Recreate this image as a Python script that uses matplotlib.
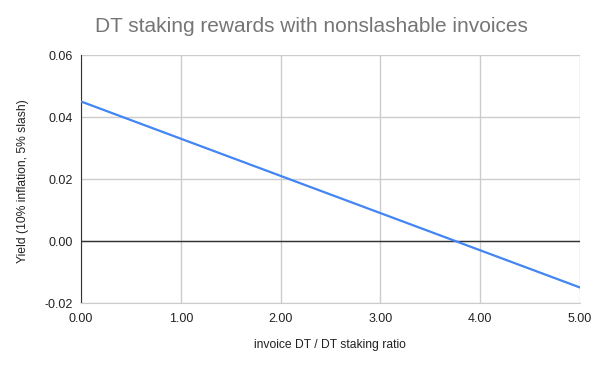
import matplotlib.pyplot as plt
from matplotlib.ticker import FormatStrFormatter

plt.rcParams['font.family'] = ['Liberation Sans', 'DejaVu Sans']

# invoice DT / DT staking ratio vs yield
ratio = [0.0, 1.0, 2.0, 3.0, 4.0, 5.0]
yield_vals = [0.045, 0.033, 0.021, 0.009, -0.003, -0.015]
x_ticks = [0, 1, 2, 3, 4, 5]
y_ticks = [-0.02, 0.0, 0.02, 0.04, 0.06]

fig = plt.figure(figsize=(5.96, 3.69), dpi=100)
ax = fig.add_axes([81 / 596, 1 - 303 / 369, 499 / 596, 248 / 369])

ax.plot(ratio, yield_vals, color='#4285f4', linewidth=1.6, zorder=3)
ax.axhline(0, color='#333333', linewidth=1, zorder=2)

ax.set_xlim(0, 5)
ax.set_ylim(-0.02, 0.06)
ax.set_xticks(x_ticks)
ax.set_yticks(y_ticks)
ax.xaxis.set_major_formatter(FormatStrFormatter('%.2f'))
ax.yaxis.set_major_formatter(FormatStrFormatter('%.2f'))
ax.grid(True, color='#cccccc', linewidth=1)
ax.set_axisbelow(True)

for s in ['top', 'right']:
    ax.spines[s].set_visible(False)
ax.spines['bottom'].set_color('#cccccc')
ax.spines['left'].set_color('#333333')
ax.tick_params(length=0, labelsize=9, colors='#222222')
ax.tick_params(axis='y', pad=6)
ax.tick_params(axis='x', pad=7)

fig.text(311 / 596, 1 - 27 / 369, 'DT staking rewards with nonslashable invoices',
         ha='center', va='center', fontsize=15, color='#757575')
fig.text(330 / 596, 1 - 345 / 369, 'invoice DT / DT staking ratio',
         ha='center', va='center', fontsize=8.7, color='#222222')
fig.text(23 / 596, 1 - 181 / 369, 'Yield (10% inflation, 5% slash)',
         ha='center', va='center', rotation=90, fontsize=8.7, color='#222222')

fig.savefig('out.png', dpi=100)
